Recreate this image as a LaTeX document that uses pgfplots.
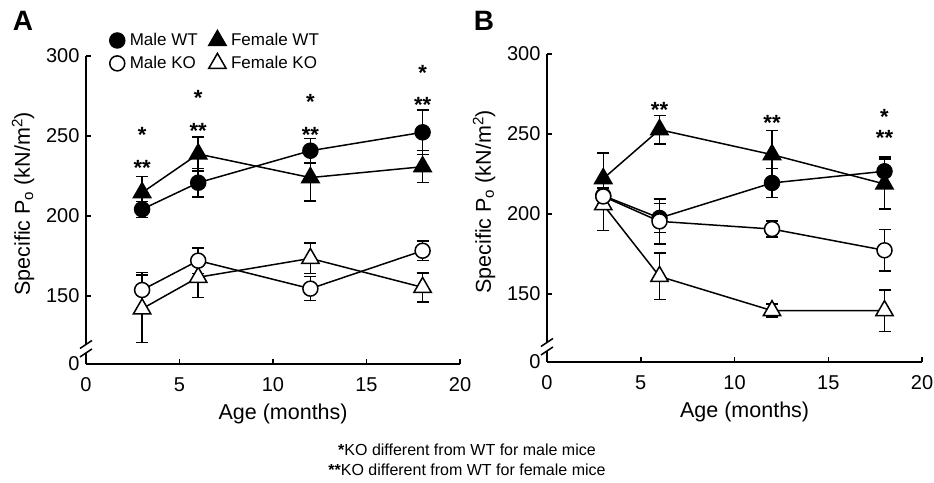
\documentclass[border=0pt]{standalone}
\usepackage{fontspec}
\setmainfont{Liberation Sans}
\usepackage{pgfplots}
\pgfplotsset{compat=1.18}
\tikzset{astnode/.style={font=\fontsize{22}{24}\selectfont\bfseries, anchor=base, yshift=-12.6pt}}
\begin{document}
\begin{tikzpicture}
\path[use as bounding box] (0,0) rectangle (934pt,482pt);
\pgfplotsset{
  panel/.style={
    scale only axis, width=374pt, height=308pt,
    xmin=0, xmax=20, ymin=107.5, ymax=300,
    axis x line=bottom, axis y line=left, axis line style={-, line width=1.5pt},
    y axis line style={draw=none},
    xtick={0,5,10,15,20},
    ytick={107.5,150,200,250,300}, yticklabels={0,150,200,250,300},
    major tick length=5pt, every tick/.style={line width=1.5pt, black},
    tick align=inside,
    /pgf/number format/assume math mode=true,
    tick label style={font=\fontsize{20}{23}\selectfont},
    xticklabel style={yshift=-10pt},
    yticklabel style={xshift=-3pt},
    xlabel={Age (months)},
    ylabel={Specific P\textsubscript{o} (kN/m\textsuperscript{2})},
    every axis x label/.style={at={(axis description cs:0.527,-0.163)}, anchor=center, font=\fontsize{21.5}{24}\selectfont},
    every axis y label/.style={at={(axis description cs:-0.168,0.52)}, anchor=center, rotate=90, font=\fontsize{21.5}{24}\selectfont},
    clip=false,
    every axis plot/.append style={line width=1.5pt, black},
    error bars/y dir=both, error bars/y explicit,
    error bars/error bar style={line width=1.5pt, black},
    error bars/error mark options={rotate=90, mark size=6pt, line width=1.5pt, black},
  },
  mwt/.style={mark=*, mark size=7.5pt, mark options={fill=black, draw=black}},
  fwt/.style={mark=triangle*, mark size=10pt, mark options={fill=black, draw=black}},
  mko/.style={mark=*, mark size=7.5pt, mark options={fill=white, draw=black, line width=1.5pt}},
  fko/.style={mark=triangle*, mark size=10pt, mark options={fill=white, draw=black, line width=1.5pt}},
}
% Panel A
\begin{axis}[panel, at={(86pt,118pt)}, anchor=south west,
  legend style={draw=none, fill=none, legend columns=2,
    font=\fontsize{17}{19}\selectfont,
    at={(rel axis cs:0.055,1.09)}, anchor=north west,
    row sep=4pt,
    /tikz/every odd column/.append style={column sep=3pt},
    /tikz/every even column/.append style={column sep=9pt}},
  legend cell align=left]
\addlegendimage{only marks, mwt}\addlegendentry{Male WT}
\addlegendimage{only marks, fwt}\addlegendentry{Female WT}
\addlegendimage{only marks, mko}\addlegendentry{Male KO}
\addlegendimage{only marks, fko}\addlegendentry{Female KO}
\addplot[fwt, forget plot] coordinates {(3,214.6) +- (0,10) (6,238.75) +- (0,10.5) (12,224) +- (0,14.5) (18,230.8) +- (0,10)};
\addplot[mwt, forget plot] coordinates {(3,204.2) +- (0,5) (6,220.8) +- (0,9) (12,240.8) +- (0,7.7) (18,252.3) +- (0,14)};
\addplot[fko, forget plot] coordinates {(3,142) +- (0,21) (6,161.7) +- (0,12.5) (12,173.5) +- (0,9.5) (18,155.4) +- (0,9)};
\addplot[mko, forget plot] coordinates {(3,153.75) +- (0,11) (6,172.1) +- (0,8) (12,154.6) +- (0,7.5) (18,178.3) +- (0,6)};
\draw[line width=1.5pt] (axis cs:0,300) -- (axis cs:0,120);
\draw[line width=1.5pt] (axis cs:0,114.5) -- (axis cs:0,107.5);
\draw[line width=1.5pt] ([xshift=-6pt,yshift=-4pt]axis cs:0,119.7) -- ([xshift=6pt,yshift=4pt]axis cs:0,119.7);
\draw[line width=1.5pt] ([xshift=-6pt,yshift=-4pt]axis cs:0,114.4) -- ([xshift=6pt,yshift=4pt]axis cs:0,114.4);
\node[astnode] at (axis cs:3,253.75) {*};
\node[astnode] at (axis cs:3,232.9) {**};
\node[astnode] at (axis cs:6,277) {*};
\node[astnode] at (axis cs:6,256.25) {**};
\node[astnode] at (axis cs:12,274.6) {*};
\node[astnode] at (axis cs:12,253.75) {**};
\node[astnode] at (axis cs:18,292.3) {*};
\node[astnode] at (axis cs:18,272.5) {**};
\end{axis}
% Panel B
\begin{axis}[panel, at={(547pt,120pt)}, anchor=south west, width=375pt]
\addplot[fwt] coordinates {(3,222.1) +- (0,16) (6,252.7) +- (0,9) (12,237.1) +- (0,15) (18,218.75) +- (0,15.6)};
\addplot[mwt] coordinates {(3,211.5) +- (0,5) (6,197.5) +- (0,9) (12,219.4) +- (0,9) (18,226.7) +- (0,9)};
\addplot[fko] coordinates {(3,205.8) +- (0,16) (6,161) +- (0,14.5) (12,139.6) +- (0,4) (18,139.6) +- (0,13)};
\addplot[mko] coordinates {(3,211) +- (0,5) (6,195.4) +- (0,14) (12,190.6) +- (0,5) (18,177.3) +- (0,13)};
\draw[line width=1.5pt] (axis cs:0,300) -- (axis cs:0,120);
\draw[line width=1.5pt] (axis cs:0,114.5) -- (axis cs:0,107.5);
\draw[line width=1.5pt] ([xshift=-6pt,yshift=-4pt]axis cs:0,119.7) -- ([xshift=6pt,yshift=4pt]axis cs:0,119.7);
\draw[line width=1.5pt] ([xshift=-6pt,yshift=-4pt]axis cs:0,114.4) -- ([xshift=6pt,yshift=4pt]axis cs:0,114.4);
\node[astnode] at (axis cs:6,268.3) {**};
\node[astnode] at (axis cs:12,260) {**};
\node[astnode] at (axis cs:18,263.5) {*};
\node[astnode] at (axis cs:18,250.6) {**};
\end{axis}
\node[font=\fontsize{28}{30}\selectfont\bfseries] at (23pt,461pt) {A};
\node[font=\fontsize{28}{30}\selectfont\bfseries] at (484pt,461pt) {B};
\node[font=\fontsize{16}{20}\selectfont, anchor=base] at (467pt,27pt) {\textbf{*}KO different from WT for male mice};
\node[font=\fontsize{16}{20}\selectfont, anchor=base] at (467pt,7pt) {\textbf{**}KO different from WT for female mice};
\end{tikzpicture}
\end{document}
